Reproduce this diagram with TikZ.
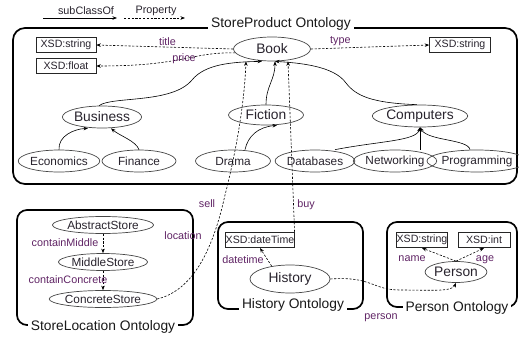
\documentclass[tikz,border=0pt]{standalone}
\usepackage{fontspec}
\setmainfont{Liberation Sans}
\usetikzlibrary{shapes.geometric,arrows.meta}
\definecolor{lblc}{RGB}{95,35,100}
\definecolor{txtc}{RGB}{40,35,45}
\definecolor{elc}{RGB}{70,70,70}
\tikzset{
  el/.style={ellipse, draw=elc, line width=0.7pt, inner sep=0pt, text=txtc},
  big/.style={font=\fontsize{13.8}{15}\selectfont},
  small/.style={font=\fontsize{11.8}{13}\selectfont},
  xsd/.style={draw=black!85, line width=0.6pt, inner sep=0pt, minimum height=15.5pt, font=\fontsize{10.6}{12}\selectfont, text=txtc},
  sub/.style={line width=0.6pt, -{Stealth[length=4.5pt,width=3.5pt]}},
  prop/.style={line width=0.6pt, dash pattern=on 2.2pt off 1.6pt, -{Stealth[length=4.5pt,width=3.5pt]}},
  lbl/.style={font=\fontsize{10.8}{12}\selectfont, text=lblc, inner sep=0pt},
  onto/.style={line width=1.7pt, rounded corners=12pt},
  otitle/.style={fill=white, font=\fontsize{13.8}{15}\selectfont, inner xsep=3pt, inner ysep=1.5pt, anchor=base, text=black!90},
}
\begin{document}
\begin{tikzpicture}[x=1pt,y=-1pt]
\useasboundingbox (0,0) rectangle (519,337);
% legend
\coordinate (l1) at (43,18); \coordinate (l2) at (117,18);
\coordinate (l3) at (124,18); \coordinate (l4) at (185,18);
\draw[sub] (l1) -- (l2);
\draw[prop] (l3) -- (l4);
\node[font=\fontsize{10.8}{12}\selectfont, text=txtc] (lg1) at (86,11) {subClassOf};
\node[font=\fontsize{10.8}{12}\selectfont, text=txtc] (lg2) at (156,11) {Property};
% ontology boxes
\draw[onto] (13,28) rectangle (517,184);
\node[otitle] (t1) at (281,28) {StoreProduct Ontology};
\draw[onto, rounded corners=10pt] (17,210) rectangle (193,325);
\node[otitle] (t2) at (103,330) {StoreLocation Ontology};
\draw[onto, rounded corners=10pt] (218,222) rectangle (363,309);
\node[otitle] (t3) at (293,308) {History Ontology};
\draw[onto, rounded corners=10pt] (387,222) rectangle (517,307);
\node[otitle] (t4) at (457,311) {Person Ontology};
% StoreProduct nodes
\node[el,big, minimum width=77pt, minimum height=24pt] (Book) at (272,49) {Book};
\node[el,big, minimum width=76pt, minimum height=22pt] (Business) at (102,117) {Business};
\node[el,big, minimum width=75pt, minimum height=20pt] (Fiction) at (266,115) {Fiction};
\node[el,big, minimum width=80pt, minimum height=22pt] (Computers) at (420,116) {Computers};
\node[el,small, minimum width=78pt, minimum height=22pt] (Economics) at (59,161) {Economics};
\node[el,small, minimum width=74pt, minimum height=22pt] (Finance) at (139,161) {Finance};
\node[el,small, minimum width=75pt, minimum height=22pt] (Drama) at (233,161) {Drama};
\node[el,small, minimum width=74pt, minimum height=22pt] (Databases) at (315,161) {Databases};
\node[el,small, minimum width=76pt, minimum height=22pt] (Networking) at (395,161) {Networking};
\node[el,small, minimum width=86pt, minimum height=22pt] (Programming) at (477,161) {Programming};
\node[xsd, minimum width=60pt] (xs1) at (66,45) {XSD:string};
\node[xsd, minimum width=60pt] (xf) at (66,66) {XSD:float};
\node[xsd, minimum width=61pt] (xs2) at (460,45) {XSD:string};
% StoreLocation nodes
\node[el,small, minimum width=87pt, minimum height=17pt] (AbstractStore) at (103,225) {AbstractStore};
\node[el,small, minimum width=87pt, minimum height=17pt] (MiddleStore) at (103,262) {MiddleStore};
\node[el,small, minimum width=90pt, minimum height=17pt] (ConcreteStore) at (103,299) {ConcreteStore};
% History nodes
\node[xsd, minimum width=66pt] (dt) at (260,240) {XSD:dateTime};
\node[el,big, minimum width=80pt, minimum height=28pt] (History) at (290,279) {History};
% Person nodes
\node[xsd, minimum width=51pt] (ps) at (422,240) {XSD:string};
\node[xsd, minimum width=52pt] (pi) at (484,240) {XSD:int};
\node[el,big, minimum width=58pt, minimum height=21pt] (Person) at (456,272) {Person};
% subClassOf edges
\draw[sub] (Business.105) .. controls (112,96) and (172,104) .. (192,80) .. controls (205,64) and (232,62) .. ([xshift=-10pt]Book.south);
\draw[sub] (Fiction.north) .. controls (266,86) and (275,80) .. ([xshift=3pt]Book.south);
\draw[sub] (Computers.105) .. controls (372,103) and (356,96) .. (346,83) .. controls (334,66) and (300,63) .. ([xshift=3pt]Book.south);
\draw[sub] (Economics.north) .. controls (58,136) and (74,129) .. ([xshift=-14pt]Business.south);
\draw[sub] (Finance.north) .. controls (136,141) and (120,136) .. ([xshift=9pt]Business.south);
\draw[sub] ([xshift=12pt]Drama.north) .. controls (248,136) and (258,127) .. ([xshift=11pt]Fiction.south);
\draw[sub] ([xshift=20pt]Databases.north) .. controls (380,141) and (416,141) .. (Computers.south);
\draw[sub] (Computers.south |- Networking.north) -- (Computers.south);
\draw[sub] ([xshift=-7pt]Programming.north) .. controls (468,139) and (428,141) .. (Computers.south);
% property edges
\draw[prop] (Book.east) -- (xs2.west) node[lbl, pos=0.25, above=2pt] {type};
\draw[prop] (Book.west) -- (xs1.east) node[lbl, pos=0.48, above=1pt] {title};
\draw[prop] (Book.186) .. controls (190,52) and (185,66) .. (xf.east);
\node[lbl] (lprice) at (184,59) {price};
\draw[prop] (ConcreteStore.east) .. controls (195,290) and (214,245) .. (225,195) .. controls (234,160) and (244,110) .. ([xshift=-26pt]Book.south);
\node[lbl] (lsell) at (207,204) {sell};
\node[lbl] (lloc) at (183,236) {location};
\draw[prop] (dt.north east) -- ([xshift=16pt]Book.south);
\node[lbl] (lbuy) at (306,205) {buy};
\draw[prop] (History.145) -- (dt.south);
\node[lbl] (ldt) at (243,260) {datetime};
\draw[prop] (History.east) .. controls (372,276) and (372,290) .. (400,290) .. controls (430,290) and (452,292) .. (Person.south);
\node[lbl] (lperson) at (381,318) {person};
\draw[prop] (Person.north) -- (ps.south);
\draw[prop] (Person.north) -- (pi.south);
\node[lbl] (lname) at (412,259) {name};
\node[lbl] (lage) at (485,260) {age};
\draw[prop] (AbstractStore.south) -- (MiddleStore.north);
\node[lbl] (lcm) at (65,243) {containMiddle};
\draw[prop] (MiddleStore.south) -- (ConcreteStore.north);
\node[lbl] (lcc) at (68,280) {containConcrete};
\end{tikzpicture}
\end{document}
